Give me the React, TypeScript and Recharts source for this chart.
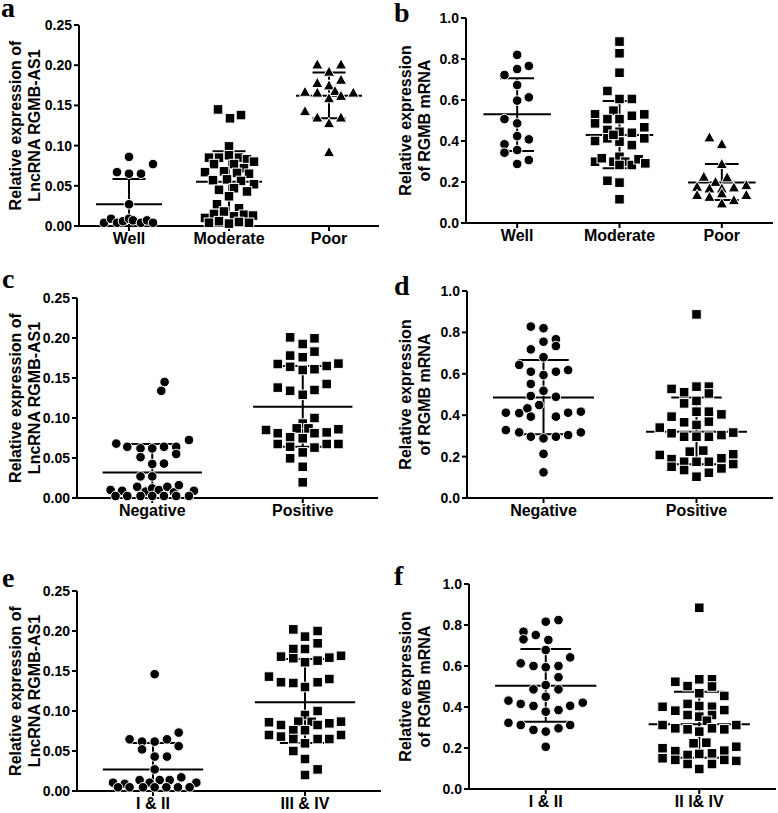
import React from 'react';
import { ScatterChart, Scatter, XAxis, YAxis, ReferenceLine } from 'recharts';

type Pt = [number, number]; // [horizontal jitter in category units, value]

// ---------- Panel a : LncRNA RGMB-AS1 by differentiation ----------
const aCategories = ['Well', 'Moderate', 'Poor'];
const aWell: Pt[] = [
  [0, 0.086], [0.24, 0.077], [-0.12, 0.067], [0, 0.065], [0.12, 0.065], [0, 0.027],
  [-0.25, 0.004], [-0.18, 0.009], [-0.12, 0.004], [-0.06, 0.006], [0, 0.009],
  [0.04, 0.007], [0.12, 0.004], [0.18, 0.007], [0.24, 0.004],
];
const aModerate: Pt[] = [
  [-0.11, 0.145], [0.01, 0.134], [0.12, 0.138], [0, 0.099],
  [-0.2, 0.085], [-0.1, 0.085], [0, 0.088], [0.1, 0.085], [0.18, 0.083], [0.25, 0.08],
  [-0.15, 0.077], [0.05, 0.077], [0.15, 0.072],
  [-0.24, 0.067], [-0.05, 0.068], [0.08, 0.066], [0.2, 0.065],
  [-0.16, 0.057], [-0.02, 0.058], [0.12, 0.056], [0.25, 0.052],
  [-0.1, 0.045], [0.05, 0.047], [0.18, 0.043], [0, 0.037],
  [-0.12, 0.027], [0.1, 0.022],
  [-0.24, 0.01], [-0.15, 0.015], [-0.05, 0.018], [0.05, 0.012], [0.15, 0.014], [0.24, 0.013],
  [-0.2, 0.004], [-0.1, 0.006], [0, 0.003], [0.1, 0.005], [0.2, 0.004],
];
const aPoor: Pt[] = [
  [-0.117, 0.201], [0.12, 0.201], [0, 0.192], [-0.117, 0.178], [0, 0.175], [0.12, 0.182],
  [-0.24, 0.167], [-0.117, 0.166], [0.06, 0.168], [0.12, 0.162], [0.243, 0.166], [0, 0.159],
  [-0.24, 0.143], [-0.117, 0.135], [0.12, 0.135], [0, 0.128], [0, 0.092],
];
const aMean = [0.027, 0.055, 0.162];
const aUpper = [0.0585, 0.093, 0.191];
const aLower = [-0.004, 0.017, 0.134];

// ---------- Panel b : RGMB mRNA by differentiation ----------
const bCategories = ['Well', 'Moderate', 'Poor'];
const bWell: Pt[] = [
  [0, 0.82], [0, 0.751], [0.114, 0.766], [-0.124, 0.722], [0, 0.673], [0.114, 0.613],
  [0, 0.597], [-0.124, 0.507], [0, 0.486], [0, 0.424], [0.114, 0.408], [-0.124, 0.384],
  [-0.124, 0.343], [0, 0.356], [0.114, 0.307], [0, 0.288],
];
const bModerate: Pt[] = [
  [0, 0.885], [0, 0.828], [0, 0.733], [-0.118, 0.644], [0, 0.605], [0.121, 0.605],
  [-0.239, 0.53], [-0.059, 0.548], [0.242, 0.53], [-0.239, 0.486], [-0.118, 0.507], [0, 0.507],
  [0.121, 0.523], [0.242, 0.467], [-0.118, 0.454], [0, 0.445], [0.121, 0.44],
  [-0.239, 0.4], [-0.118, 0.413], [0, 0.397], [0.121, 0.38], [0.242, 0.413], [-0.059, 0.43],
  [-0.239, 0.299], [-0.173, 0.316], [-0.059, 0.299], [0, 0.323], [0.056, 0.299], [0.121, 0.283],
  [0.186, 0.311], [0.252, 0.291], [0, 0.283], [-0.118, 0.206], [0, 0.197], [0, 0.116],
];
const bPoor: Pt[] = [
  [-0.121, 0.418], [0, 0.385], [0, 0.288], [-0.176, 0.226], [-0.062, 0.201], [0.052, 0.223],
  [-0.242, 0.177], [-0.121, 0.169], [0, 0.169], [0.118, 0.174], [0.239, 0.185],
  [-0.242, 0.137], [-0.121, 0.128], [0, 0.145], [0.118, 0.112], [0.239, 0.137], [0, 0.096],
];
const bMean = [0.53, 0.429, 0.198];
const bUpper = [0.706, 0.595, 0.288];
const bLower = [0.351, 0.267, 0.112];

// ---------- Panel c : LncRNA RGMB-AS1 by lymph node metastasis ----------
const cCategories = ['Negative', 'Positive'];
const cNegative: Pt[] = [
  [0.06, 0.134], [0.082, 0.145], [-0.239, 0.068], [-0.166, 0.064], [-0.078, 0.062], [0, 0.062],
  [0.078, 0.064], [0.159, 0.064], [0.244, 0.0725], [-0.078, 0.051], [0.159, 0.055], [0, 0.0425],
  [0.078, 0.043], [-0.078, 0.027], [0, 0.027],
  [-0.277, 0.01], [-0.2, 0.009], [-0.1, 0.014], [-0.044, 0.008], [0, 0.012], [0.044, 0.01],
  [0.1, 0.014], [0.144, 0.007], [0.177, 0.016], [0.277, 0.009],
  [-0.244, 0.0025], [-0.166, 0.0025], [-0.078, 0.0025], [0, 0.0025], [0.078, 0.0025],
  [0.159, 0.0025], [0.244, 0.0025],
];
const cPositive: Pt[] = [
  [-0.084, 0.2008], [0, 0.1925], [0.078, 0.1996], [-0.084, 0.178], [0, 0.176], [0.078, 0.183],
  [-0.166, 0.1675], [-0.084, 0.164], [0, 0.16], [0.078, 0.161], [0.159, 0.165], [0.237, 0.168],
  [-0.166, 0.138], [-0.084, 0.134], [0, 0.129], [0.078, 0.135], [0.159, 0.1425],
  [0.078, 0.1], [0, 0.093],
  [-0.244, 0.085], [-0.166, 0.081], [-0.04, 0.087], [0.038, 0.087], [0.078, 0.081], [0.159, 0.082], [0.237, 0.086],
  [-0.084, 0.076], [0, 0.0746],
  [-0.166, 0.0675], [-0.084, 0.064], [0, 0.057], [0.078, 0.063], [0.159, 0.0675], [0.237, 0.0675],
  [-0.084, 0.0496], [0, 0.039], [0, 0.0196],
];
const cMean = [0.032, 0.114];
const cUpper = [0.0675, 0.165];
const cLower = [-0.004, 0.064];

// ---------- Panel d : RGMB mRNA by lymph node metastasis ----------
const dCategories = ['Negative', 'Positive'];
const dNegative: Pt[] = [
  [-0.083, 0.828], [0, 0.82], [-0.083, 0.718], [0, 0.755], [0.081, 0.767], [0.081, 0.734], [0, 0.68],
  [-0.159, 0.643], [-0.083, 0.61], [0, 0.594], [0.081, 0.61], [0.161, 0.618], [-0.083, 0.551],
  [0, 0.518], [-0.083, 0.493], [0.081, 0.489],
  [-0.105, 0.433], [-0.028, 0.449], [-0.246, 0.412], [-0.159, 0.41], [-0.083, 0.393], [0.081, 0.393],
  [0.161, 0.412], [0.244, 0.417],
  [-0.246, 0.328], [-0.159, 0.317], [-0.083, 0.296], [0, 0.288], [0.081, 0.296], [0.161, 0.304], [0.244, 0.317],
  [0, 0.213], [0, 0.124],
];
const dPositive: Pt[] = [
  [0, 0.887],
  [-0.163, 0.527], [-0.081, 0.511], [0, 0.538], [0.081, 0.538], [0.081, 0.505],
  [-0.081, 0.457], [0, 0.469],
  [-0.163, 0.393], [-0.081, 0.366], [0, 0.417], [0.081, 0.417], [0.163, 0.404], [0.081, 0.369], [0, 0.353],
  [-0.24, 0.34], [-0.163, 0.313], [-0.081, 0.296], [0, 0.296], [0.081, 0.296], [0.163, 0.304], [0.24, 0.316],
  [-0.044, 0.224], [0.044, 0.229],
  [-0.24, 0.208], [-0.163, 0.188], [-0.163, 0.151], [-0.081, 0.175], [-0.081, 0.135], [0, 0.175],
  [0.081, 0.175], [0.163, 0.192], [0.24, 0.211], [0.24, 0.164], [0.163, 0.143], [0.081, 0.122], [0, 0.103],
];
const dMean = [0.486, 0.32];
const dUpper = [0.667, 0.485];
const dLower = [0.308, 0.163];

// ---------- Panel e : LncRNA RGMB-AS1 by TNM stage ----------
const eCategories = ['I & II', 'III & IV'];
const eEarly: Pt[] = [
  [0.011, 0.146], [-0.154, 0.0646], [-0.072, 0.0617], [0.011, 0.0617], [0.092, 0.0646], [0.169, 0.073],
  [-0.072, 0.052], [0.169, 0.056], [0.011, 0.043], [0.092, 0.043], [0.011, 0.027],
  [-0.263, 0.0104], [-0.186, 0.009], [-0.088, 0.0137], [-0.022, 0.0104], [0.044, 0.0137],
  [0.11, 0.0137], [0.186, 0.017], [0.285, 0.0104],
  [-0.23, 0.0046], [-0.154, 0.0046], [-0.066, 0.0046], [0.011, 0.0046], [0.088, 0.0046],
  [0.164, 0.0046], [0.241, 0.0046],
];
const eLate: Pt[] = [
  [-0.077, 0.202], [0, 0.193], [0.083, 0.2], [-0.077, 0.1775], [0, 0.1775], [0.083, 0.1846],
  [-0.158, 0.168], [-0.077, 0.166], [0, 0.161], [0.083, 0.163], [0.16, 0.1667], [0.237, 0.169],
  [-0.237, 0.143], [-0.158, 0.136], [-0.077, 0.135], [0, 0.13], [0.083, 0.136], [0.16, 0.14],
  [0.083, 0.1], [0, 0.095],
  [-0.237, 0.086], [-0.158, 0.0825], [-0.044, 0.0867], [0.044, 0.0865], [0.083, 0.0825], [0.16, 0.0846], [0.237, 0.0867],
  [-0.077, 0.076], [0, 0.076],
  [-0.237, 0.07], [-0.158, 0.068], [-0.077, 0.065], [0, 0.0596], [0.083, 0.065], [0.16, 0.065], [0.237, 0.07],
  [-0.077, 0.05], [0, 0.04], [0.083, 0.027], [0, 0.02],
];
const eMean = [0.027, 0.111];
const eUpper = [0.06, 0.165];
const eLower = [-0.006, 0.06];

// ---------- Panel f : RGMB mRNA by TNM stage ----------
const fCategories = ['I & II', 'II I& IV'];
const fEarly: Pt[] = [
  [0, 0.816], [0.083, 0.824], [-0.145, 0.767], [-0.065, 0.751], [-0.145, 0.73], [0.017, 0.727], [0, 0.678],
  [-0.163, 0.613], [-0.08, 0.6], [0, 0.594], [0.083, 0.6], [0.159, 0.642],
  [0.083, 0.545], [0, 0.507], [-0.08, 0.486], [0.083, 0.486], [0, 0.45],
  [-0.243, 0.431], [-0.163, 0.415], [-0.08, 0.405], [0.083, 0.385], [0, 0.377], [0.159, 0.406], [0.241, 0.421],
  [-0.243, 0.323], [-0.163, 0.312], [-0.08, 0.288], [0, 0.28], [0.083, 0.296], [0.159, 0.312],
  [0, 0.206],
];
const fLate: Pt[] = [
  [0, 0.884],
  [-0.156, 0.523], [-0.076, 0.502], [0, 0.535], [0.083, 0.535], [0.083, 0.5],
  [0, 0.467], [0.163, 0.454],
  [-0.239, 0.401], [-0.156, 0.382], [-0.076, 0.415], [-0.076, 0.361], [0, 0.405], [0.083, 0.401],
  [0.083, 0.361], [0.163, 0.385], [0, 0.353], [0.05, 0.333],
  [-0.239, 0.312], [-0.156, 0.296], [-0.076, 0.291], [0, 0.28], [0.083, 0.296], [0.163, 0.291], [0.241, 0.312],
  [-0.037, 0.223], [0.046, 0.226],
  [-0.239, 0.199], [-0.239, 0.15], [-0.156, 0.185], [-0.156, 0.142], [-0.076, 0.166], [0, 0.171],
  [0.083, 0.174], [0.163, 0.187], [0.241, 0.206], [0.241, 0.137], [0.163, 0.142], [-0.076, 0.122],
  [0.083, 0.122], [0, 0.0976],
];
const fMean = [0.504, 0.316];
const fUpper = [0.683, 0.475];
const fLower = [0.328, 0.153];

// ---------- Axis ticks and labels ----------
const lncTicks = [0, 0.05, 0.1, 0.15, 0.2, 0.25];
const mrnaTicks = [0, 0.2, 0.4, 0.6, 0.8, 1.0];
const lncLabel = ['Relative expression of', 'LncRNA RGMB-AS1'];
const mrnaLabel = ['Relative expression', 'of RGMB mRNA'];

// ---------- Styling ----------
const FONT = '"Liberation Sans", Arial, sans-serif';
const axisStroke = { stroke: '#000', strokeWidth: 2 };
const MEAN_HALF = 0.33;
const CAP_HALF = 0.165;

const CircleMark = (p: any) => (
  <circle cx={p.cx} cy={p.cy} r={4.8} fill="#000" stroke="#fff" strokeWidth={1} />
);
const SquareMark = (p: any) => (
  <rect x={p.cx - 4.8} y={p.cy - 4.8} width={9.6} height={9.6} fill="#000" stroke="#fff" strokeWidth={1} />
);
const TriangleMark = (p: any) => (
  <polygon
    points={`${p.cx},${p.cy - 5.6} ${p.cx + 5.6},${p.cy + 4.6} ${p.cx - 5.6},${p.cy + 4.6}`}
    fill="#000"
    stroke="#fff"
    strokeWidth={1}
  />
);
const marks: Record<string, any> = { circle: CircleMark, square: SquareMark, triangle: TriangleMark };

const makeYLabel = (lines: string[]) => (props: any) => {
  const vb = props.viewBox || { x: 0, y: 0, width: 0, height: 0 };
  const cy = vb.y + vb.height / 2;
  const xs = [vb.x + 21, vb.x + 40];
  return (
    <g>
      {lines.map((t, i) => (
        <text
          key={i}
          x={xs[i]}
          y={cy}
          transform={`rotate(-90, ${xs[i]}, ${cy})`}
          textAnchor="middle"
          fontFamily={FONT}
          fontWeight="bold"
          fontSize={16}
          fill="#000"
        >
          {t}
        </text>
      ))}
    </g>
  );
};

interface PanelProps {
  left: number;
  top: number;
  width: number;
  height: number;
  margin: { top: number; right: number; bottom: number; left: number };
  yAxisWidth: number;
  categories: string[];
  groups: Pt[][];
  shapes: string[];
  mean: number[];
  upper: number[];
  lower: number[];
  yTicks: number[];
  decimals: number;
  yLabel: string[];
}

function Panel(p: PanelProps) {
  const n = p.categories.length;
  const yMax = p.yTicks[p.yTicks.length - 1];
  const series = p.groups.map((g, gi) => g.map(([o, v]) => ({ x: gi + 0.5 + o, y: v })));
  const lines: any[] = [];
  p.categories.forEach((_, gi) => {
    const cx = gi + 0.5;
    const segs = [
      [{ x: cx - MEAN_HALF, y: p.mean[gi] }, { x: cx + MEAN_HALF, y: p.mean[gi] }],
      [{ x: cx - CAP_HALF, y: p.upper[gi] }, { x: cx + CAP_HALF, y: p.upper[gi] }],
      [{ x: cx - CAP_HALF, y: p.lower[gi] }, { x: cx + CAP_HALF, y: p.lower[gi] }],
      [{ x: cx, y: p.lower[gi] }, { x: cx, y: p.upper[gi] }],
    ];
    segs.forEach((s, si) => {
      lines.push(
        <ReferenceLine
          key={`r${gi}-${si}`}
          segment={s}
          stroke="#000"
          strokeWidth={2}
          ifOverflow="hidden"
        />
      );
    });
  });
  return (
    <div style={{ position: 'absolute', left: p.left, top: p.top }}>
      <ScatterChart width={p.width} height={p.height} margin={p.margin}>
        <XAxis
          type="number"
          dataKey="x"
          domain={[0, n]}
          ticks={p.categories.map((_, i) => i + 0.5)}
          tickFormatter={(v: number) => p.categories[Math.floor(v)]}
          interval={0}
          height={20}
          tickSize={5}
          axisLine={axisStroke}
          tickLine={axisStroke}
          tick={{ fontFamily: FONT, fontWeight: 'bold', fontSize: 16, fill: '#000' }}
        />
        <YAxis
          type="number"
          dataKey="y"
          domain={[0, yMax]}
          ticks={p.yTicks}
          interval={0}
          tickFormatter={(v: number) => v.toFixed(p.decimals)}
          width={p.yAxisWidth}
          tickSize={5}
          axisLine={axisStroke}
          tickLine={axisStroke}
          tick={{ fontFamily: FONT, fontWeight: 'bold', fontSize: 14, fill: '#000' }}
          label={{ content: makeYLabel(p.yLabel) }}
        />
        {series.map((d, gi) => (
          <Scatter key={gi} data={d} shape={marks[p.shapes[gi]]} isAnimationActive={false} />
        ))}
        {lines}
      </ScatterChart>
    </div>
  );
}

const panelLetters = [
  { t: 'a', x: 1, y: 17 },
  { t: 'b', x: 394, y: 22 },
  { t: 'c', x: 2, y: 288 },
  { t: 'd', x: 394, y: 295 },
  { t: 'e', x: 2, y: 587 },
  { t: 'f', x: 394, y: 585 },
];

export default function App() {
  return (
    <div style={{ position: 'absolute', left: 0, top: 0, width: 778, height: 813, background: '#fff' }}>
      <Panel
        left={0} top={0} width={390} height={270}
        margin={{ top: 25, right: 11, bottom: 24, left: 0 }} yAxisWidth={79}
        categories={aCategories} groups={[aWell, aModerate, aPoor]} shapes={['circle', 'square', 'triangle']}
        mean={aMean} upper={aUpper} lower={aLower} yTicks={lncTicks} decimals={2} yLabel={lncLabel}
      />
      <Panel
        left={390} top={0} width={388} height={270}
        margin={{ top: 18, right: 5, bottom: 27, left: 0 }} yAxisWidth={76}
        categories={bCategories} groups={[bWell, bModerate, bPoor]} shapes={['circle', 'square', 'triangle']}
        mean={bMean} upper={bUpper} lower={bLower} yTicks={mrnaTicks} decimals={1} yLabel={mrnaLabel}
      />
      <Panel
        left={0} top={270} width={390} height={270}
        margin={{ top: 28, right: 12, bottom: 22, left: 0 }} yAxisWidth={77}
        categories={cCategories} groups={[cNegative, cPositive]} shapes={['circle', 'square']}
        mean={cMean} upper={cUpper} lower={cLower} yTicks={lncTicks} decimals={2} yLabel={lncLabel}
      />
      <Panel
        left={390} top={270} width={388} height={270}
        margin={{ top: 21, right: 5, bottom: 22, left: 0 }} yAxisWidth={77}
        categories={dCategories} groups={[dNegative, dPositive]} shapes={['circle', 'square']}
        mean={dMean} upper={dUpper} lower={dLower} yTicks={mrnaTicks} decimals={1} yLabel={mrnaLabel}
      />
      <Panel
        left={0} top={540} width={390} height={273}
        margin={{ top: 51, right: 9, bottom: 2, left: 0 }} yAxisWidth={77}
        categories={eCategories} groups={[eEarly, eLate]} shapes={['circle', 'square']}
        mean={eMean} upper={eUpper} lower={eLower} yTicks={lncTicks} decimals={2} yLabel={lncLabel}
      />
      <Panel
        left={390} top={540} width={388} height={273}
        margin={{ top: 44, right: 2, bottom: 4, left: 0 }} yAxisWidth={79}
        categories={fCategories} groups={[fEarly, fLate]} shapes={['circle', 'square']}
        mean={fMean} upper={fUpper} lower={fLower} yTicks={mrnaTicks} decimals={1} yLabel={mrnaLabel}
      />
      <svg width={778} height={813} style={{ position: 'absolute', left: 0, top: 0, pointerEvents: 'none' }}>
        {panelLetters.map((l) => (
          <text key={l.t} x={l.x} y={l.y} fontFamily='"Liberation Serif", "Times New Roman", serif' fontWeight="bold" fontSize={28} fill="#000">
            {l.t}
          </text>
        ))}
      </svg>
    </div>
  );
}
